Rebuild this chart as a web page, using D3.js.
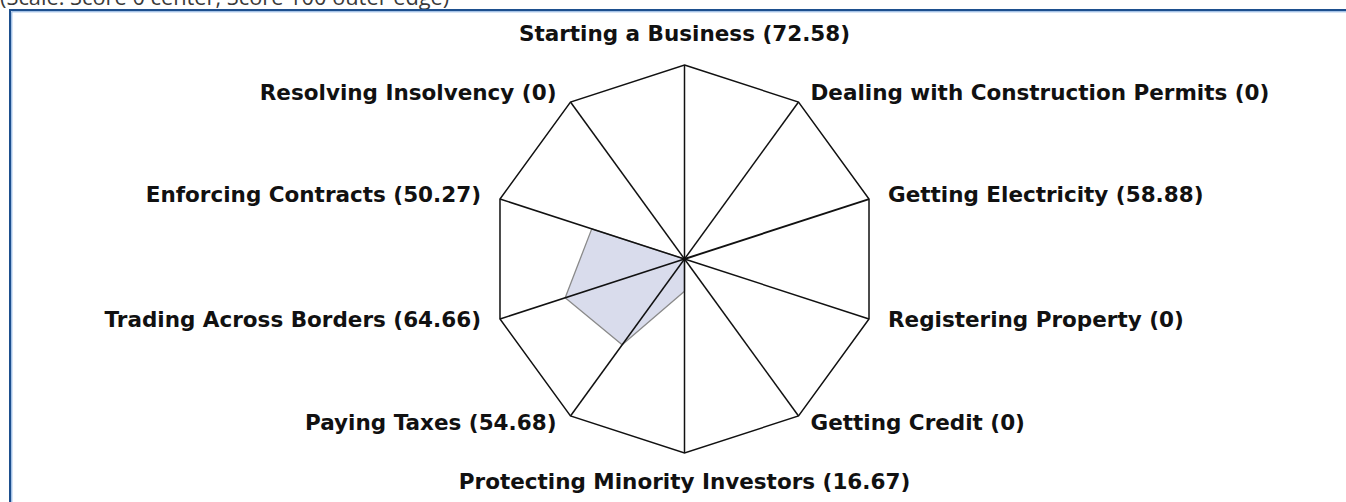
<!DOCTYPE html>
<html>
<head>
<meta charset="utf-8">
<script src="https://cdn.jsdelivr.net/npm/d3@7"></script>
<style>
  html, body { margin: 0; padding: 0; background: #fff; overflow: hidden; }
  body { width: 1346px; height: 502px; }
  svg { display: block; }
</style>
</head>
<body>
<script>
// Data
const indicators = [
  "Starting a Business",
  "Dealing with Construction Permits",
  "Getting Electricity",
  "Registering Property",
  "Getting Credit",
  "Protecting Minority Investors",
  "Paying Taxes",
  "Trading Across Borders",
  "Enforcing Contracts",
  "Resolving Insolvency"
];
// scores printed in the labels
const scores = [72.58, 0, 58.88, 0, 0, 16.67, 54.68, 64.66, 50.27, 0];
// radius of the shaded polygon as it appears on the chart
const plotted = [0, 0, 0, 0, 0, 16.67, 54.68, 64.66, 50.27, 0];
const scaleNote = "(Scale: Score 0 center, Score 100 outer edge)";

const width = 1346, height = 502;
const cx = 684.5, cy = 259, R = 194;

const svg = d3.select("body").append("svg").attr("width", width).attr("height", height);

// note at top (cut off by the page edge, as in the source)
svg.append("text")
   .attr("x", 0).attr("y", 5)
   .style("font-family", "'Open Sans', 'Noto Sans', sans-serif")
   .style("font-size", "21.8px")
   .style("fill", "#3a3a3a")
   .text(scaleNote);

// frame
svg.append("rect").attr("x", 10).attr("y", 10).attr("width", width).attr("height", height)
   .style("fill", "none").style("stroke", "#1d4f8e").style("stroke-width", 2);
svg.append("rect").attr("x", 11.8).attr("y", 11.8).attr("width", width).attr("height", height)
   .style("fill", "none").style("stroke", "#7fa9dc").style("stroke-width", 1);

// Scales
const r = d3.scaleLinear().domain([0, 100]).range([0, R]);
const angle = d3.scaleLinear().domain([0, indicators.length]).range([0, 2 * Math.PI]);
const pt = (i, v) => [cx + r(v) * Math.sin(angle(i)), cy - r(v) * Math.cos(angle(i))];

const g = svg.append("g");

// shaded score polygon
g.append("path")
 .attr("d", d3.line()(plotted.map((v, i) => pt(i, v))) + "Z")
 .style("fill", "#d9dcec")
 .style("stroke", "#8a8a8a")
 .style("stroke-width", 1.3)
 .style("stroke-linejoin", "round");

// outer edge
g.append("path")
 .attr("d", d3.line()(indicators.map((d, i) => pt(i, 100))) + "Z")
 .style("fill", "none")
 .style("stroke", "#111")
 .style("stroke-width", 1.5);

// spokes
g.selectAll("line.spoke")
 .data(indicators)
 .enter().append("line")
 .attr("class", "spoke")
 .attr("x1", cx).attr("y1", cy)
 .attr("x2", (d, i) => pt(i, 100)[0])
 .attr("y2", (d, i) => pt(i, 100)[1])
 .style("stroke", "#111")
 .style("stroke-width", (d, i) => i === 2 ? 1.9 : 1.5);

// labels, placed off each outer vertex
const fmt = v => v === 0 ? "0" : d3.format(".2f")(v);
g.selectAll("text.label")
 .data(indicators)
 .enter().append("text")
 .attr("class", "label")
 .each(function(d, i) {
   const s = Math.sin(angle(i)), c = Math.cos(angle(i));
   const [vx, vy] = pt(i, 100);
   let x = vx, y = vy, anchor = "middle";
   if (Math.abs(s) < 0.01) {
     y = c > 0 ? vy - 32 : vy + 28;
   } else if (Math.abs(s) > 0.9) {
     anchor = s > 0 ? "start" : "end";
     x = vx + (s > 0 ? 19 : -19);
     y = c > 0 ? vy - 5 : vy;
   } else {
     anchor = s > 0 ? "start" : "end";
     x = vx + (s > 0 ? 12 : -14);
     y = c > 0 ? vy - 9.5 : vy + 6;
   }
   d3.select(this).attr("x", x).attr("y", y).attr("text-anchor", anchor).attr("dy", "0.36em");
 })
 .style("font-family", "'DejaVu Sans', sans-serif")
 .style("font-weight", "bold")
 .style("font-size", "21.5px")
 .style("fill", "#111")
 .text((d, i) => d + " (" + fmt(scores[i]) + ")");
</script>
</body>
</html>
